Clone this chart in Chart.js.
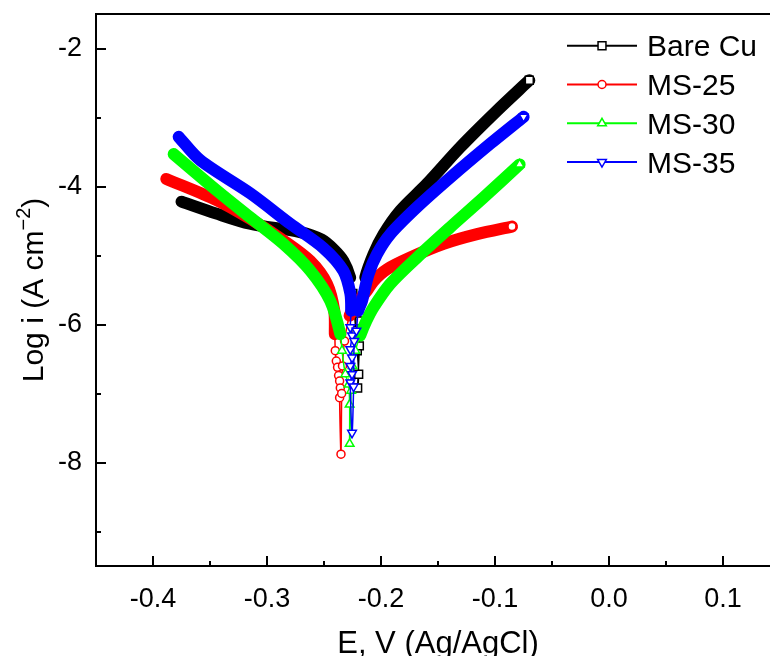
<!DOCTYPE html>
<html>
<head>
<meta charset="utf-8">
<script src="https://cdn.jsdelivr.net/npm/chart.js@4.4.1/dist/chart.umd.min.js"></script>
<style>
  html, body { margin: 0; padding: 0; background: #fff; overflow: hidden; }
  canvas { display: block; }
</style>
</head>
<body>
<canvas id="tafel" width="800" height="656"></canvas>
<script>
// Tafel curves: [E (V vs Ag/AgCl), log i]
const bareCu = [
  [-0.375, -4.22], [-0.345, -4.39], [-0.315, -4.54], [-0.271, -4.66], [-0.252, -4.77],
  [-0.241, -4.92], [-0.233, -5.08], [-0.227, -5.32], [-0.2247, -5.55], [-0.2234, -5.80], [-0.2221, -6.09],
  [-0.2208, -6.38], [-0.2196, -6.72], [-0.2205, -6.92], [-0.2190, -6.31], [-0.2186, -5.95],
  [-0.2173, -5.66], [-0.2138, -5.32], [-0.2065, -4.98], [-0.1977, -4.69], [-0.1831, -4.35],
  [-0.1596, -3.96], [-0.1304, -3.43], [-0.0982, -2.90], [-0.0699, -2.46]
];
const ms25 = [
  [-0.3883, -3.89], [-0.3439, -4.20], [-0.3146, -4.47], [-0.2857, -4.78], [-0.2620, -5.08],
  [-0.2474, -5.41], [-0.2410, -5.80], [-0.2405, -6.14], [-0.2401, -6.38], [-0.2392, -6.53],
  [-0.2381, -6.62], [-0.2372, -6.74], [-0.2363, -6.82], [-0.2357, -6.92], [-0.2363, -7.06],
  [-0.2351, -7.88], [-0.2345, -7.00], [-0.2338, -6.60], [-0.2320, -6.24], [-0.2275, -5.87],
  [-0.2199, -5.66], [-0.2123, -5.51], [-0.2065, -5.37], [-0.1947, -5.20], [-0.1743, -5.03],
  [-0.1451, -4.83], [-0.1158, -4.69], [-0.0851, -4.58]
];
const ms30 = [
  [-0.3819, -3.53], [-0.3439, -4.06], [-0.3146, -4.45], [-0.2857, -4.83], [-0.2620, -5.22],
  [-0.2445, -5.66], [-0.2357, -6.14], [-0.2342, -6.38], [-0.2313, -6.72], [-0.2284, -6.87],
  [-0.2275, -7.16], [-0.2275, -7.73], [-0.2262, -6.96], [-0.2250, -6.60], [-0.2225, -6.38],
  [-0.2182, -6.16], [-0.2129, -5.95], [-0.2065, -5.75], [-0.1918, -5.41], [-0.1684, -5.03],
  [-0.1392, -4.59], [-0.1100, -4.16], [-0.0784, -3.68]
];
const ms35 = [
  [-0.3775, -3.28], [-0.3585, -3.62], [-0.3146, -4.10], [-0.2796, -4.54], [-0.2506, -4.89],
  [-0.2331, -5.22], [-0.2269, -5.55], [-0.2262, -5.80], [-0.2269, -6.04], [-0.2254, -6.16],
  [-0.2269, -6.36], [-0.2254, -6.48], [-0.2269, -6.60], [-0.2254, -6.72], [-0.2269, -6.84],
  [-0.2254, -7.57], [-0.2240, -6.90], [-0.2235, -6.24], [-0.2216, -6.09], [-0.2199, -5.80],
  [-0.2167, -5.66], [-0.2109, -5.27], [-0.2035, -4.98], [-0.1918, -4.69], [-0.1684, -4.30],
  [-0.1392, -3.87], [-0.1041, -3.38], [-0.0749, -2.99]
];
const seriesNames = ['Bare Cu', 'MS-25', 'MS-30', 'MS-35'];
const seriesData = [bareCu, ms25, ms30, ms35];

const xMajor = [-0.4, -0.3, -0.2, -0.1, 0.0, 0.1];
const xMinor = [-0.35, -0.25, -0.15, -0.05, 0.05];
const yMajor = [-8, -6, -4, -2];
const yMinor = [-9, -7, -5, -3];

// look of each curve; below "sparse" the points are shown one by one
const looks = [
  { color: '#000000', pointStyle: 'rect',     radius: 5.6, rotation: 0,   sparse: -5.5 },
  { color: '#ff0000', pointStyle: 'circle',   radius: 4,   rotation: 0,   sparse: -6.2 },
  { color: '#00ff00', pointStyle: 'triangle', radius: 5,   rotation: 0,   sparse: -6.2 },
  { color: '#0000ff', pointStyle: 'triangle', radius: 5,   rotation: 180, sparse: -5.9 }
];

const FONT = '"Liberation Sans", Arial, sans-serif';
const BAND = 12;

const isIn = (v, list) => list.some(m => Math.abs(m - v) < 1e-9);

function makeDataset(name, pts, look, i) {
  const last = pts.length - 1;
  const thin = v => v < look.sparse;
  return {
    label: name,
    data: pts.map(p => ({ x: p[0], y: p[1] })),
    borderColor: look.color,
    borderWidth: BAND,
    borderJoinStyle: 'round',
    borderCapStyle: 'round',
    tension: 0.3,
    fill: false,
    order: 3 - i,
    pointStyle: look.pointStyle,
    pointRotation: look.rotation,
    pointBorderColor: look.color,
    pointBackgroundColor: '#ffffff',
    pointBorderWidth: 1.5,
    pointRadius: ctx => (ctx.raw && (ctx.dataIndex === last || thin(ctx.raw.y))) ? look.radius : 0,
    pointHoverRadius: 0,
    segment: {
      borderWidth: ctx => (thin(ctx.p0.parsed.y) || thin(ctx.p1.parsed.y)) ? 1.5 : BAND
    }
  };
}

function marker(ctx, look, x, y) {
  ctx.save();
  ctx.fillStyle = '#ffffff';
  ctx.strokeStyle = look.color;
  ctx.lineWidth = 1.5;
  Chart.helpers.drawPoint(ctx, {
    pointStyle: look.pointStyle, rotation: look.rotation,
    radius: look.radius, borderWidth: 1.5
  }, x, y);
  ctx.restore();
}

// frame, inward ticks, axis titles and legend
const decorations = {
  id: 'decorations',
  afterDraw(chart) {
    const { ctx, chartArea: a, scales: { x, y } } = chart;
    ctx.save();
    ctx.strokeStyle = '#000';
    ctx.lineWidth = 2;
    ctx.strokeRect(a.left, a.top, a.right - a.left, a.bottom - a.top);

    ctx.beginPath();
    xMajor.concat(xMinor).forEach(v => {
      const p = Math.round(x.getPixelForValue(v));
      ctx.moveTo(p, a.bottom);
      ctx.lineTo(p, a.bottom - (isIn(v, xMajor) ? 10 : 5));
    });
    yMajor.concat(yMinor).forEach(v => {
      const p = Math.round(y.getPixelForValue(v));
      ctx.moveTo(a.left, p);
      ctx.lineTo(a.left + (isIn(v, yMajor) ? 10 : 5), p);
    });
    ctx.stroke();

    ctx.fillStyle = '#000';
    ctx.textBaseline = 'alphabetic';

    // x title
    ctx.font = '31px ' + FONT;
    ctx.textAlign = 'center';
    ctx.fillText('E, V (Ag/AgCl)', (a.left + a.right) / 2, a.bottom + 87);

    // y title with superscript
    const big = '30px ' + FONT, small = '20px ' + FONT;
    const p1 = 'Log i (A cm', p2 = '\u22122', p3 = ')';
    ctx.font = big; const w1 = ctx.measureText(p1).width, w3 = ctx.measureText(p3).width;
    ctx.font = small; const w2 = ctx.measureText(p2).width;
    const total = w1 + w2 + w3;
    ctx.translate(a.left - 53, (a.top + a.bottom) / 2);
    ctx.rotate(-Math.PI / 2);
    ctx.textAlign = 'left';
    let cx = -total / 2;
    ctx.font = big; ctx.fillText(p1, cx, 0); cx += w1;
    ctx.font = small; ctx.fillText(p2, cx, -13); cx += w2;
    ctx.font = big; ctx.fillText(p3, cx, 0);
    ctx.restore();

    // legend
    ctx.save();
    ctx.font = '30px ' + FONT;
    ctx.textAlign = 'left';
    ctx.textBaseline = 'alphabetic';
    seriesNames.forEach((name, i) => {
      const look = looks[i];
      const ry = a.top + 31.7 + 38.8 * i;
      const x0 = a.left + 471, x1 = a.left + 541;
      ctx.strokeStyle = look.color;
      ctx.lineWidth = 2;
      ctx.beginPath(); ctx.moveTo(x0, ry); ctx.lineTo(x1, ry); ctx.stroke();
      marker(ctx, look, (x0 + x1) / 2, ry);
      ctx.fillStyle = '#000';
      ctx.fillText(name, a.left + 551, ry + 10.7);
    });
    ctx.restore();
  }
};

const noPadding = s => { s.paddingTop = 0; s.paddingBottom = 0; s.paddingLeft = 0; s.paddingRight = 0; };

new Chart(document.getElementById('tafel'), {
  type: 'line',
  data: {
    datasets: seriesNames.map((n, i) => makeDataset(n, seriesData[i], looks[i], i))
  },
  options: {
    responsive: false,
    animation: false,
    events: [],
    layout: { padding: { left: 0, right: 20, top: 14, bottom: 0 } },
    plugins: { legend: { display: false }, tooltip: { enabled: false } },
    scales: {
      x: {
        type: 'linear',
        min: -0.45,
        max: 0.15,
        afterBuildTicks: s => { s.ticks = xMajor.concat(xMinor).sort((p, q) => p - q).map(v => ({ value: v })); },
        afterFit: s => { s.height = 90; noPadding(s); },
        grid: { display: false, drawTicks: false },
        border: { display: false },
        ticks: {
          callback: v => isIn(v, xMajor) ? v.toFixed(1) : '',
          color: '#000', font: { family: FONT, size: 27 },
          padding: 17, maxRotation: 0, autoSkip: false
        }
      },
      y: {
        type: 'linear',
        min: -9.5,
        max: -1.5,
        afterBuildTicks: s => { s.ticks = yMajor.concat(yMinor).sort((p, q) => p - q).map(v => ({ value: v })); },
        afterFit: s => { s.width = 96; noPadding(s); },
        grid: { display: false, drawTicks: false },
        border: { display: false },
        ticks: {
          callback: v => isIn(v, yMajor) ? String(v) : '',
          color: '#000', font: { family: FONT, size: 27 },
          padding: 14, autoSkip: false
        }
      }
    }
  },
  plugins: [decorations]
});
</script>
</body>
</html>
